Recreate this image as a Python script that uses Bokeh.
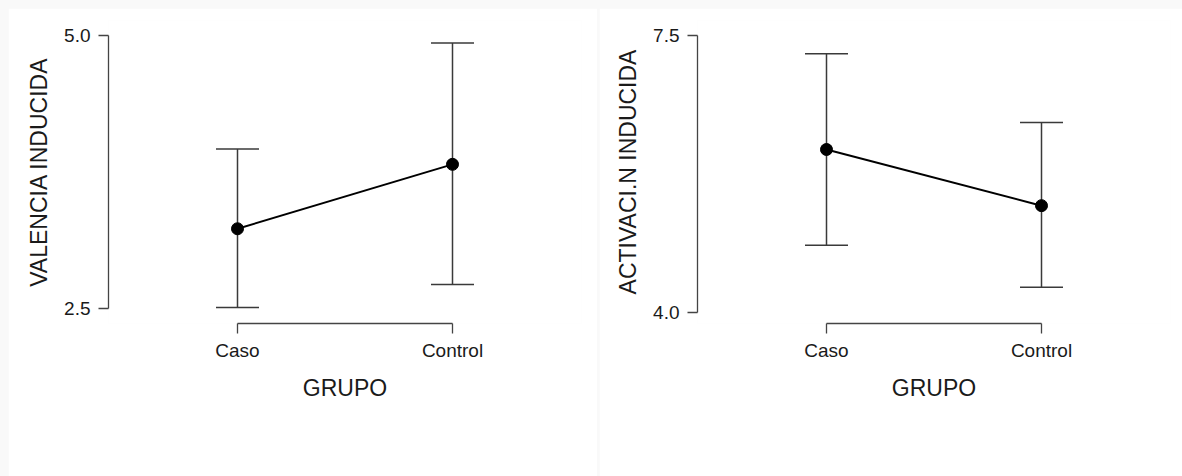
from bokeh.plotting import figure
from bokeh.layouts import row
from bokeh.models import ColumnDataSource, Whisker, TeeHead, FixedTicker, NumeralTickFormatter, Range1d
from bokeh.embed import file_html
from bokeh.resources import INLINE

# ---- data ----
groups = ["Caso", "Control"]
valencia_mean = [3.23, 3.82]
valencia_upper = [3.96, 4.93]
valencia_lower = [2.51, 2.72]
valencia_ticks = [2.5, 5.0]

activacion_mean = [6.06, 5.35]
activacion_upper = [7.27, 6.40]
activacion_lower = [4.85, 4.32]
activacion_ticks = [4.0, 7.5]

FONT = "Liberation Sans"


def make_panel(ylabel, means, upper, lower, ticks, yrange, width, borders, margin):
    xs = list(range(len(groups)))
    src = ColumnDataSource(dict(x=xs, m=means, up=upper, lo=lower))
    bl, br, bt, bb = borders
    p = figure(width=width, height=468, output_backend="svg", toolbar_location=None,
               x_range=Range1d(-0.6, 1.6), y_range=Range1d(*yrange),
               min_border_left=bl, min_border_right=br, min_border_top=bt, min_border_bottom=bb,
               background_fill_color="white", border_fill_color="white",
               outline_line_color=None, margin=margin)
    p.grid.visible = False

    whisk = Whisker(source=src, base="x", upper="up", lower="lo", dimension="height",
                    line_color="#3a3a3a", line_width=1.5,
                    upper_head=TeeHead(size=43, line_color="#3a3a3a", line_width=1.5),
                    lower_head=TeeHead(size=43, line_color="#3a3a3a", line_width=1.5))
    p.add_layout(whisk)
    p.line("x", "m", source=src, line_color="black", line_width=2)
    p.scatter("x", "m", source=src, size=12, fill_color="black", line_color="black")

    # x axis
    xa = p.xaxis[0]
    xa.ticker = FixedTicker(ticks=xs)
    xa.major_label_overrides = {i: g for i, g in enumerate(groups)}
    xa.bounds = (0, len(groups) - 1)
    xa.axis_label = "GRUPO"
    # y axis
    ya = p.yaxis[0]
    ya.ticker = FixedTicker(ticks=ticks)
    ya.formatter = NumeralTickFormatter(format="0.0")
    ya.bounds = (ticks[0], ticks[-1])
    ya.axis_label = ylabel

    for ax in (xa, ya):
        ax.axis_line_color = "#444444"
        ax.axis_line_width = 1.3
        ax.major_tick_line_color = "#444444"
        ax.major_tick_line_width = 1.3
        ax.major_tick_in = 0
        ax.major_tick_out = 10
        ax.minor_tick_line_color = None
        ax.major_label_text_font = FONT
        ax.major_label_text_font_size = "19px"
        ax.major_label_text_color = "#1a1a1a"
        ax.axis_label_text_font = FONT
        ax.axis_label_text_font_size = "23px"
        ax.axis_label_text_font_style = "normal"
        ax.axis_label_text_color = "#1a1a1a"
    xa.major_label_standoff = 6
    xa.axis_label_standoff = 11
    ya.major_label_standoff = 8
    ya.axis_label_standoff = 9
    return p


p1 = make_panel("VALENCIA INDUCIDA", valencia_mean, valencia_upper, valencia_lower,
                valencia_ticks, (2.3626, 5.137), 589, (100, 16, 12, 153), (8, 1, 0, 8))
p2 = make_panel("ACTIVACI.N INDUCIDA", activacion_mean, activacion_upper, activacion_lower,
                activacion_ticks, (3.861, 7.69), 583, (98, 12, 12, 153), (8, 0, 0, 1))

layout = row(p1, p2, styles={"background-color": "#f9f9f9"})

open("out.html", "w").write(file_html(layout, INLINE))
